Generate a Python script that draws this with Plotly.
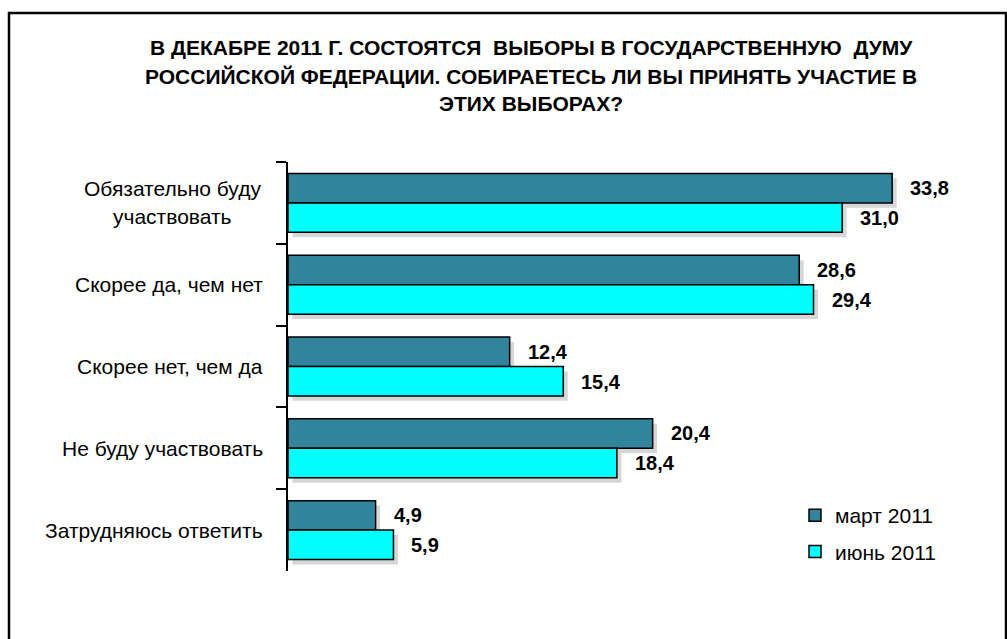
import plotly.graph_objects as go

# ---------------- data ----------------
categories = ["Обязательно буду участвовать", "Скорее да, чем нет", "Скорее нет, чем да",
              "Не буду участвовать", "Затрудняюсь ответить"]
label_lines = [["Обязательно буду", "участвовать"], ["Скорее да, чем нет"], ["Скорее нет, чем да"],
               ["Не буду участвовать"], ["Затрудняюсь ответить"]]
series_names = ["март 2011", "июнь 2011"]
march = [33.8, 28.6, 12.4, 20.4, 4.9]
june = [31.0, 29.4, 15.4, 18.4, 5.9]
title_lines = ["В ДЕКАБРЕ 2011 Г. СОСТОЯТСЯ  ВЫБОРЫ В ГОСУДАРСТВЕННУЮ  ДУМУ",
               "РОССИЙСКОЙ ФЕДЕРАЦИИ. СОБИРАЕТЕСЬ ЛИ ВЫ ПРИНЯТЬ УЧАСТИЕ В",
               "ЭТИХ ВЫБОРАХ?"]

# ---------------- layout constants ----------------
W, H = 1007, 639
ML, MT, MB = 288, 162, 68
XMAX = 40
MR = 4
PW = W - ML - MR
PH = H - MT - MB
BW = 0.36
colors = ["#31849B", "#00FFFF"]
FONT = "Liberation Sans, Arial, sans-serif"


def px_x(px):
    return (px - ML) / PW


def px_y(py):
    return (H - MB - py) / PH


def fmt(v):
    return f"{v:.1f}".replace(".", ",")


fig = go.Figure()

# shadows
for i, vals in enumerate([march, june]):
    fig.add_trace(go.Bar(
        y=categories, x=vals, base=0.25, orientation="h",
        offset=-BW + i * BW + 0.06, width=BW,
        marker=dict(color="rgba(0,0,0,0.16)", line=dict(width=0)),
        showlegend=False, hoverinfo="skip"))

for i, (vals, name) in enumerate(zip([march, june], series_names)):
    fig.add_trace(go.Bar(
        y=categories, x=vals, orientation="h", name=name,
        offset=-BW + i * BW, width=BW, legendgroup=name,
        marker=dict(color=colors[i], line=dict(color="#000000", width=1.5))))

annotations = []
for i, vals in enumerate([march, june]):
    for c, v in zip(categories, vals):
        annotations.append(dict(
            x=v, y=c, xref="x", yref="y", text=fmt(v), showarrow=False,
            xanchor="left", xshift=16, yshift=(15 if i == 0 else -15),
            font=dict(family=FONT, size=20, color="#000000", weight="bold")))

# category labels
for c, lines in zip(categories, label_lines):
    if len(lines) == 1:
        annotations.append(dict(
            x=px_x(265), y=c, xref="paper", yref="y", text=lines[0], showarrow=False,
            xanchor="right", font=dict(family=FONT, size=21, color="#000000")))
    else:
        n = len(lines)
        for k, ln in enumerate(lines):
            annotations.append(dict(
                x=px_x(172), y=c, xref="paper", yref="y", text=ln, showarrow=False,
                xanchor="center", yshift=(n - 1) * 14 - k * 28,
                font=dict(family=FONT, size=21, color="#000000")))

# title
for k, ln in enumerate(title_lines):
    annotations.append(dict(
        x=px_x(531), y=px_y(48 + k * 28), xref="paper", yref="paper", text=ln,
        showarrow=False, xanchor="center", yanchor="middle",
        font=dict(family=FONT, size=21, color="#000000", weight="bold")))

fig.update_layout(
    width=W, height=H,
    margin=dict(l=ML, r=MR, t=MT, b=MB, pad=0),
    paper_bgcolor="white", plot_bgcolor="white",
    barmode="overlay",
    xaxis=dict(range=[0, XMAX], visible=False),
    yaxis=dict(autorange="reversed", showticklabels=False, showline=True, linecolor="#000000",
               linewidth=2, ticks="outside", tickson="boundaries", ticklen=10, tickwidth=2,
               tickcolor="#000000", showgrid=False, zeroline=False),
    showlegend=True,
    legend=dict(x=px_x(795), y=px_y(495), xanchor="left", yanchor="top",
                font=dict(family=FONT, size=21, color="#000000"),
                bgcolor="rgba(0,0,0,0)", tracegroupgap=6, traceorder="grouped"),
    annotations=annotations,
    shapes=[dict(type="rect", xref="paper", yref="paper",
                 x0=px_x(9), x1=px_x(1006), y0=px_y(13), y1=px_y(700),
                 line=dict(color="#000000", width=2.5), fillcolor="rgba(0,0,0,0)")],
)

fig.write_html("out.html", config={"displayModeBar": False},
               post_script="document.body.style.margin='0';")
